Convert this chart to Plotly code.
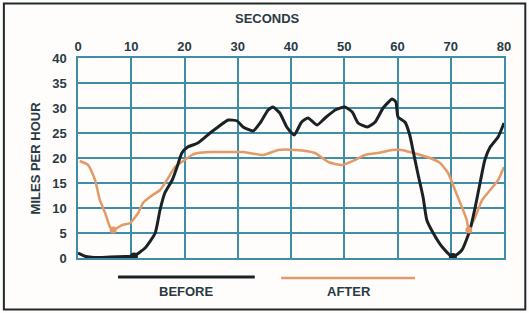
import plotly.graph_objects as go

# BEFORE (black) curve
before_x = [0, 1.5, 3, 6, 9, 10.5, 12.6, 14.5, 15.4, 16.3, 17.7, 18.6, 19.5, 20.6, 22.5, 24.8,
            26.3, 28.2, 29.9, 31, 32.9, 34.2, 35.7, 36.6, 37.9, 39.2, 40.6, 42, 43.2, 44.9,
            46.4, 48.3, 50.1, 51.5, 52.6, 54.3, 55.8, 57.3, 59, 59.7, 60.1, 61.4, 62.3, 62.9,
            63.8, 64.8, 65.5, 66.7, 68.4, 70.4, 72.1, 73.6, 74.6, 75.5, 76.4, 77.4, 78.9, 80]
before_y = [1, 0.3, 0.1, 0.2, 0.3, 0.4, 2, 5, 9.6, 13, 15.6, 18.2, 21, 22.2, 23, 25,
            26.2, 27.6, 27.4, 26.2, 25.4, 27, 29.6, 30.2, 29, 26.2, 24.6, 27.2, 28, 26.6,
            28, 29.6, 30.2, 29.2, 27, 26.2, 27.2, 30, 31.8, 31.2, 28.2, 27.2, 24.6, 21.6,
            17, 12.2, 7.6, 5, 2.2, 0.2, 1.6, 5.6, 10.2, 15, 19.6, 22.2, 24.2, 27]

# AFTER (orange) curve
after_x = [0.3, 1.9, 3.2, 4.1, 5.1, 6, 6.6, 8.3, 9.8, 11.3, 12.2, 13.5, 15.4, 16.7, 18.2,
           19.5, 21.4, 22.5, 25, 28, 31, 34.8, 37.6, 40.8, 44.5, 47, 49.6, 52, 53.9, 56.3,
           59, 60.8, 62.3, 66.1, 68, 69.5, 70.8, 72.1, 73, 73.4, 74.6, 75.9, 77.4, 78.9, 80]
after_y = [19.4, 18.6, 15.6, 11.6, 9, 6.2, 5.6, 6.6, 7, 9, 11, 12.2, 13.6, 15.6, 18.2,
           19.2, 20.6, 21, 21.2, 21.2, 21.2, 20.6, 21.6, 21.6, 21, 19.2, 18.6, 19.6, 20.6, 21,
           21.6, 21.6, 21.2, 20, 19, 17, 13.6, 10.2, 7.6, 5.6, 8.2, 11.6, 13.6, 15.6, 18.2]

# highlighted points
before_pts_x = [10.5, 70.4]
before_pts_y = [0.3, 0.2]
after_pts_x = [6.6, 73.4]
after_pts_y = [5.6, 5.6]

x_ticks = [0, 10, 20, 30, 40, 50, 60, 70, 80]
y_ticks = [0, 5, 10, 15, 20, 25, 30, 35, 40]

BLACK = "#1b2226"
ORANGE = "#e39a68"
GRID = "#3f8ea8"
TEXT = "#2a3a44"
FONT = "Liberation Sans"

fig = go.Figure()
fig.add_trace(go.Scatter(x=after_x, y=after_y, mode="lines",
                         line=dict(color=ORANGE, width=2.5, shape="spline", smoothing=0.5)))
fig.add_trace(go.Scatter(x=before_x, y=before_y, mode="lines",
                         line=dict(color=BLACK, width=3, shape="spline", smoothing=0.5)))
fig.add_trace(go.Scatter(x=after_pts_x, y=after_pts_y, mode="markers",
                         marker=dict(color=ORANGE, size=7)))
fig.add_trace(go.Scatter(x=before_pts_x, y=before_pts_y, mode="markers",
                         marker=dict(color=BLACK, size=8)))

tf = dict(size=13, color=TEXT, family=FONT, weight="bold")

fig.update_layout(
    width=529, height=313,
    margin=dict(l=78, r=25, t=58, b=55),
    paper_bgcolor="#fffdfb", plot_bgcolor="#fffdfb",
    showlegend=False,
    font=dict(family=FONT, size=13, color=TEXT),
    xaxis=dict(range=[0, 80], tickvals=x_ticks, ticktext=[str(v) for v in x_ticks],
               side="top", showgrid=True, gridcolor=GRID, gridwidth=1.5,
               zeroline=False, showline=True, linecolor=GRID, linewidth=1.5, mirror=True,
               ticks="", tickfont=tf, fixedrange=True, automargin=False),
    yaxis=dict(range=[0, 40], tickvals=y_ticks, ticktext=[str(v) for v in y_ticks],
               showgrid=True, gridcolor=GRID, gridwidth=1.5,
               zeroline=False, showline=True, linecolor=GRID, linewidth=1.5, mirror=True,
               ticks="", ticklabelstandoff=7, tickfont=tf,
               fixedrange=True, automargin=False),
    shapes=[
        dict(type="rect", xref="paper", yref="paper", x0=-0.174, x1=1.05, y0=-0.258, y1=1.272,
             line=dict(color="#22292d", width=2)),
        dict(type="line", xref="paper", yref="paper", x0=0.094, x1=0.415, y0=-0.095, y1=-0.095,
             line=dict(color=BLACK, width=3)),
        dict(type="line", xref="paper", yref="paper", x0=0.477, x1=0.791, y0=-0.1, y1=-0.1,
             line=dict(color=ORANGE, width=2.5)),
    ],
    annotations=[
        dict(text="SECONDS", xref="paper", yref="paper", x=0.444, y=1.2, showarrow=False,
             font=tf, xanchor="center", yanchor="middle"),
        dict(text="MILES PER HOUR", xref="paper", yref="paper", x=-0.1, y=0.5, showarrow=False,
             textangle=-90, font=tf, xanchor="center", yanchor="middle"),
        dict(text="BEFORE", xref="paper", yref="paper", x=0.254, y=-0.165, showarrow=False,
             font=tf, xanchor="center", yanchor="middle"),
        dict(text="AFTER", xref="paper", yref="paper", x=0.636, y=-0.165, showarrow=False,
             font=tf, xanchor="center", yanchor="middle"),
    ],
)

fig.write_html("out.html", config={"displayModeBar": False},
               post_script="document.body.style.margin='0px';")
